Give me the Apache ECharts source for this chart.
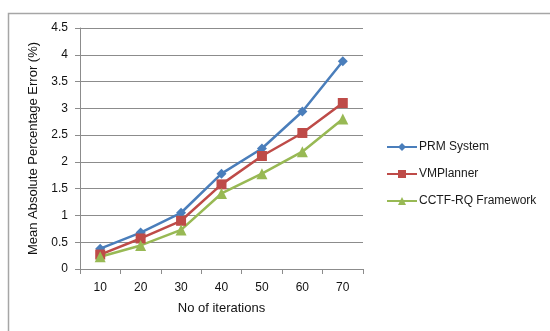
<!DOCTYPE html>
<html>
<head>
<meta charset="utf-8">
<script src="https://cdn.jsdelivr.net/npm/echarts@6/dist/echarts.min.js"></script>
<style>
  html, body { margin: 0; padding: 0; background: #fff; }
  #chart { width: 550px; height: 331px; }
</style>
</head>
<body>
<div id="chart"></div>
<script>
// Iteration counts on the x axis
var iterations = ['10', '20', '30', '40', '50', '60', '70'];

// Mean absolute percentage error (%) for each method
var prmSystem = [0.38, 0.68, 1.05, 1.78, 2.25, 2.94, 3.88];
var vmPlanner = [0.27, 0.57, 0.90, 1.58, 2.11, 2.54, 3.10];
var cctfRq = [0.23, 0.44, 0.73, 1.41, 1.78, 2.19, 2.80];

var seriesNames = ['PRM System', 'VMPlanner', 'CCTF-RQ Framework'];
var yTicks = { min: 0, max: 4.5, interval: 0.5 };

var font = 'Liberation Sans';
var chart = echarts.init(document.getElementById('chart'));

chart.setOption({
  animation: false,
  backgroundColor: '#fff',
  textStyle: { fontFamily: font },
  graphic: [{
    type: 'rect',
    shape: { x: 8.5, y: 13.5, width: 600, height: 400 },
    style: { fill: 'none', stroke: '#a6a6a6', lineWidth: 1.5 },
    silent: true
  }],
  grid: { left: 80, right: 187, top: 28, bottom: 62 },
  legend: {
    orient: 'vertical',
    left: 381,
    top: 136,
    itemWidth: 30,
    itemHeight: 10,
    itemGap: 15,
    data: seriesNames,
    textStyle: { fontFamily: font, fontSize: 12, color: '#1a1a1a', padding: [0, 0, 0, -3] }
  },
  xAxis: {
    type: 'category',
    data: iterations,
    boundaryGap: true,
    name: 'No of iterations',
    nameLocation: 'middle',
    nameGap: 33,
    nameTextStyle: { fontFamily: font, fontSize: 13, color: '#111' },
    axisLine: { lineStyle: { color: '#8c8c8c', width: 1 } },
    axisTick: { show: true, length: 5, inside: false, lineStyle: { color: '#8c8c8c' } },
    axisLabel: { fontFamily: font, fontSize: 12, color: '#111', margin: 13 },
    splitLine: { show: false }
  },
  yAxis: {
    type: 'value',
    min: yTicks.min,
    max: yTicks.max,
    interval: yTicks.interval,
    name: 'Mean Absolute Percentage Error (%)',
    nameLocation: 'middle',
    nameRotate: 90,
    nameGap: 40,
    nameTextStyle: { fontFamily: font, fontSize: 13, color: '#111' },
    axisLine: { show: true, lineStyle: { color: '#8c8c8c', width: 1 } },
    axisTick: { show: true, length: 5, lineStyle: { color: '#8c8c8c' } },
    axisLabel: { fontFamily: font, fontSize: 12, color: '#111', margin: 12 },
    splitLine: { show: true, lineStyle: { color: '#8c8c8c', width: 1 } }
  },
  series: [
    {
      name: seriesNames[0],
      type: 'line',
      data: prmSystem,
      symbol: 'diamond',
      symbolSize: 10,
      lineStyle: { color: '#4a7ebb', width: 2.5 },
      itemStyle: { color: '#4a7ebb' }
    },
    {
      name: seriesNames[1],
      type: 'line',
      data: vmPlanner,
      symbol: 'rect',
      symbolSize: 10,
      lineStyle: { color: '#be4b48', width: 2.5 },
      itemStyle: { color: '#be4b48' }
    },
    {
      name: seriesNames[2],
      type: 'line',
      data: cctfRq,
      symbol: 'triangle',
      symbolSize: 11,
      lineStyle: { color: '#98b954', width: 2.5 },
      itemStyle: { color: '#98b954' }
    }
  ]
});
</script>
</body>
</html>
